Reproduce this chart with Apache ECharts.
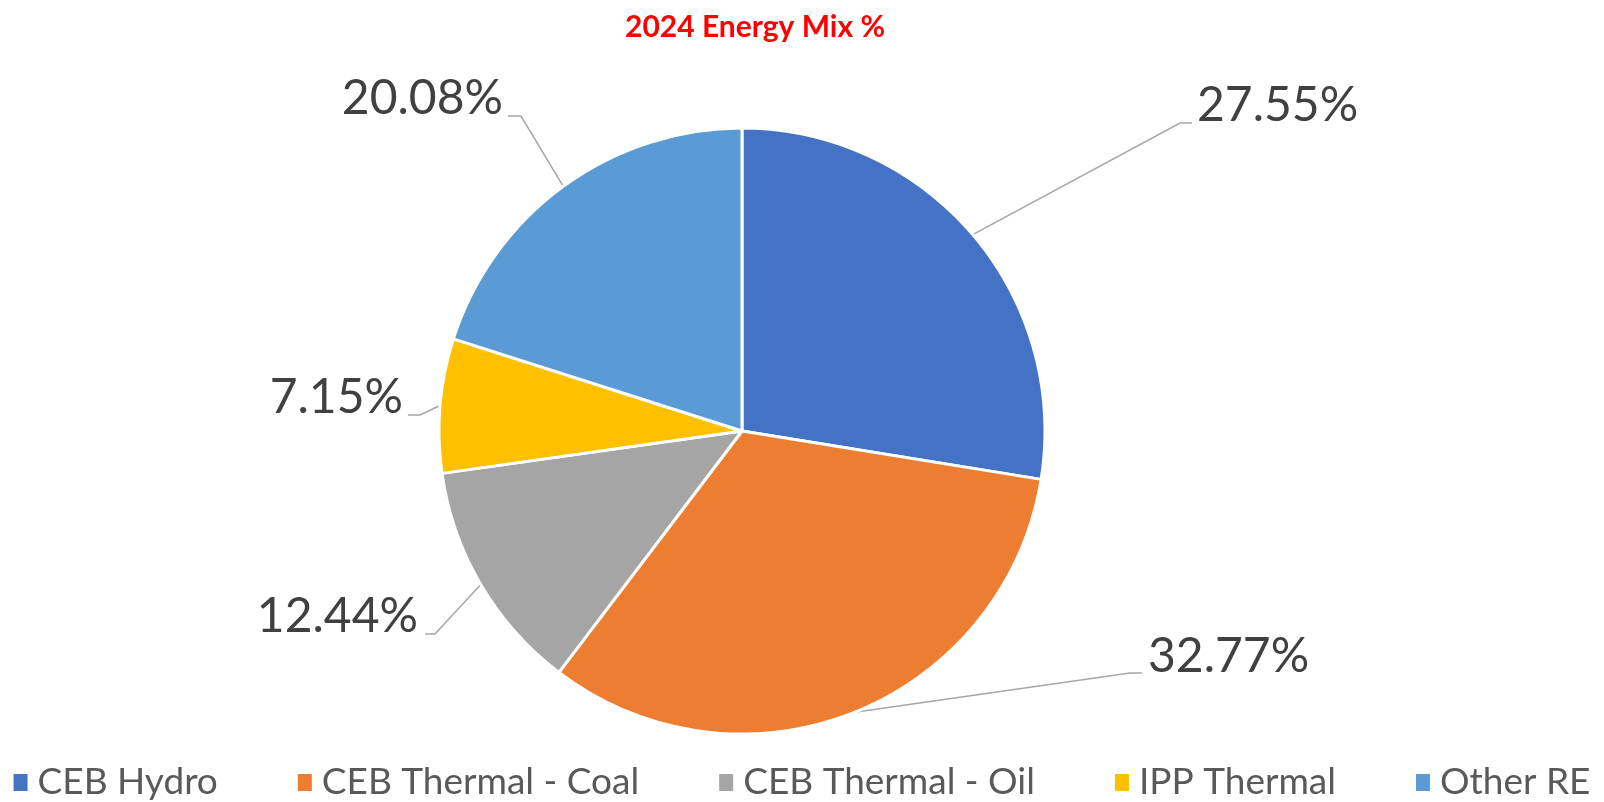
<!DOCTYPE html>
<html>
<head>
<meta charset="utf-8">
<title>2024 Energy Mix %</title>
<script src="https://cdn.jsdelivr.net/npm/echarts@6/dist/echarts.min.js"></script>
<style>
  html, body { margin: 0; padding: 0; background: #fff; }
  #chart { width: 1604px; height: 802px; }
</style>
</head>
<body>
<div id="chart"></div>
<script>
// data
var categories = ['CEB Hydro', 'CEB Thermal - Coal', 'CEB Thermal - Oil', 'IPP Thermal', 'Other RE']
var shares = [27.55, 32.77, 12.44, 7.15, 20.08]
var colors = ['#4472C4', '#ED7D31', '#A5A5A5', '#FFC000', '#5B9BD5']

// where each label sits: [line corner x, y, line end x, text x, text y, align]
var labelSpots = [
  [1180, 123, 1192, 1197, 106, 'left'],
  [1130, 673, 1142, 1148, 657, 'left'],
  [435, 634, 425, 418, 617, 'right'],
  [420, 415, 408, 403, 398, 'right'],
  [521, 116, 508, 503, 99, 'right']
]

var chart = echarts.init(document.getElementById('chart'))

var pieData = []
for (var i = 0; i < categories.length; i++) {
  pieData.push({
    name: categories[i],
    value: shares[i],
    itemStyle: { color: colors[i] }
  })
}

var option = {
  animation: false,
  title: {
    text: '2024 Energy Mix %',
    left: 750,
    top: 7,
    textAlign: 'center',
    textStyle: {
      color: '#FF0000',
      fontFamily: 'Lato',
      fontWeight: 'bold',
      fontSize: 30
    }
  },
  legend: {
    data: categories,
    left: 'center',
    top: 764,
    width: 1604,
    padding: 0,
    icon: 'rect',
    itemWidth: 14,
    itemHeight: 17,
    symbolKeepAspect: false,
    itemGap: 80,
    itemStyle: { borderWidth: 0 },
    textStyle: {
      color: '#595959',
      fontFamily: 'Lato',
      fontSize: 37,
      padding: [0, 0, 0, 5]
    }
  },
  series: [{
    type: 'pie',
    center: [742, 431],
    radius: 303,
    startAngle: 90,
    clockwise: true,
    data: pieData,
    emphasis: { disabled: true },
    itemStyle: {
      borderColor: '#fff',
      borderWidth: 3
    },
    label: {
      show: true,
      position: 'outside',
      formatter: function (p) {
        return p.value.toFixed(2) + '%'
      },
      color: '#404040',
      fontFamily: 'Lato',
      fontSize: 48
    },
    labelLine: {
      show: true,
      length: 60,
      length2: 20,
      lineStyle: { color: '#A6A6A6', width: 1.5 }
    },
    labelLayout: function (params) {
      var s = labelSpots[params.dataIndex]
      var start = params.labelLinePoints ? params.labelLinePoints[0] : [s[0], s[1]]
      return {
        x: s[3],
        y: s[4],
        align: s[5],
        verticalAlign: 'middle',
        labelLinePoints: [start, [s[0], s[1]], [s[2], s[1]]]
      }
    }
  }]
}

chart.setOption(option)
</script>
</body>
</html>
